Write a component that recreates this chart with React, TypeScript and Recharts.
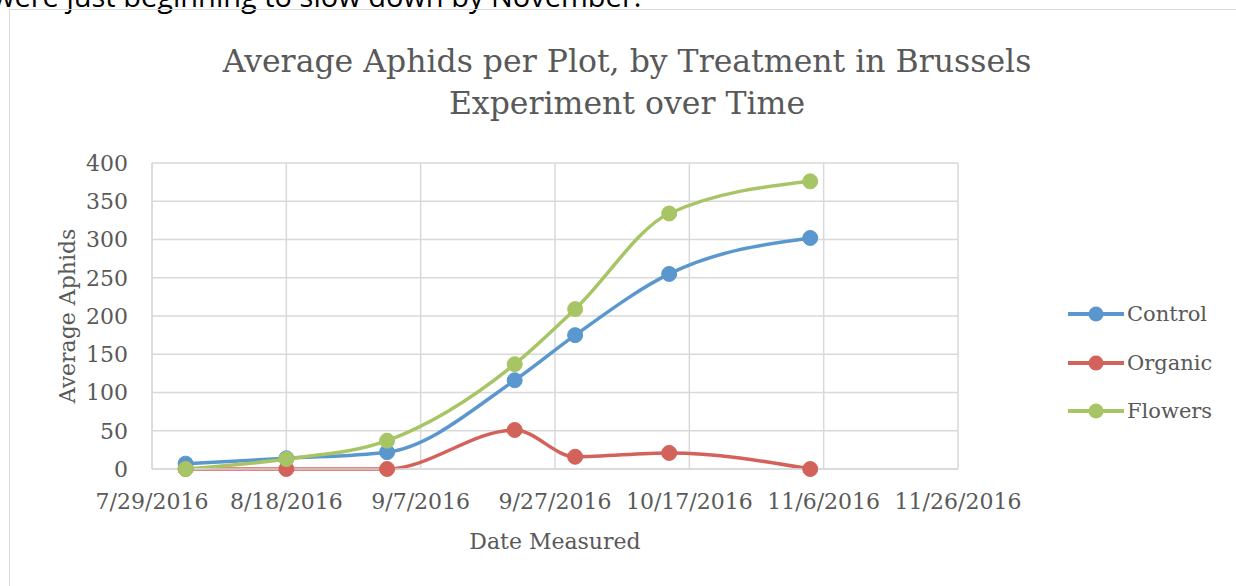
import React from 'react';
import { LineChart, Line, XAxis, YAxis, CartesianGrid, Legend, Label } from 'recharts';

// ---- data ----
const dates = ['8/3/2016', '8/18/2016', '9/2/2016', '9/21/2016', '9/30/2016', '10/14/2016', '11/4/2016'];
const control = [7, 14, 22, 116, 175, 255, 302];
const organic = [0, 0, 0, 51, 16, 21, 0];
const flowers = [0, 13, 37, 137, 209, 334, 376];
const xTickLabels = ['7/29/2016', '8/18/2016', '9/7/2016', '9/27/2016', '10/17/2016', '11/6/2016', '11/26/2016'];
const yTicks = [0, 50, 100, 150, 200, 250, 300, 350, 400];

const seriesNames = ['Control', 'Organic', 'Flowers'];
const seriesColors = ['#5b97cf', '#d2625a', '#a8c566'];

const toTime = (s: string) => {
  const [m, d, y] = s.split('/').map(Number);
  return Date.UTC(y, m - 1, d);
};
const fmtDate = (t: number) => {
  const d = new Date(t);
  return `${d.getUTCMonth() + 1}/${d.getUTCDate()}/${d.getUTCFullYear()}`;
};

const data = dates.map((d, i) => ({
  t: toTime(d),
  Control: control[i],
  Organic: organic[i],
  Flowers: flowers[i],
}));
const xTicks = xTickLabels.map(toTime);

const FONT = '"DejaVu Serif", serif';
const TEXT = '#595959';
const GRID = '#d9d9d9';

const renderLegend = () => (
  <div style={{ display: 'flex', flexDirection: 'column' }}>
    {seriesNames.map((name, i) => (
      <div key={name} style={{ display: 'flex', alignItems: 'center', height: 48.5 }}>
        <svg width={56} height={20} style={{ display: 'block' }}>
          <line x1={0} y1={10} x2={56} y2={10} stroke={seriesColors[i]} strokeWidth={4} />
          <circle cx={28} cy={10} r={7.5} fill={seriesColors[i]} />
        </svg>
        <span style={{ marginLeft: 3, fontFamily: FONT, fontSize: 21, color: TEXT }}>{name}</span>
      </div>
    ))}
  </div>
);

export default function App() {
  return (
    <div
      style={{
        position: 'absolute',
        left: 0,
        top: 0,
        width: 1236,
        height: 586,
        overflow: 'hidden',
        background: '#fff',
      }}
    >
      <svg width={1236} height={14} style={{ position: 'absolute', left: 0, top: 0 }}>
        <text x={-8} y={6.5} fontFamily='"Open Sans", sans-serif' fontSize={29} fill="#000">
          were just beginning to slow down by November.
        </text>
      </svg>
      <div
        style={{
          position: 'absolute',
          left: 9,
          top: 9,
          width: 1400,
          height: 800,
          border: `1.5px solid ${GRID}`,
        }}
      />
      <div
        style={{
          position: 'absolute',
          left: 0,
          top: 40,
          width: 1254,
          textAlign: 'center',
          fontFamily: FONT,
          fontSize: 31.5,
          lineHeight: '42px',
          color: TEXT,
        }}
      >
        Average Aphids per Plot, by Treatment in Brussels
        <br />
        Experiment over Time
      </div>
      <div style={{ position: 'absolute', left: 0, top: 0 }}>
        <LineChart
          width={1236}
          height={586}
          data={data}
          margin={{ top: 163, right: 278, bottom: 27, left: 20 }}
        >
          <CartesianGrid stroke={GRID} strokeWidth={1.5} vertical horizontal />
          <XAxis
            dataKey="t"
            type="number"
            scale="linear"
            domain={[xTicks[0], xTicks[xTicks.length - 1]]}
            ticks={xTicks}
            tickFormatter={fmtDate}
            interval={0}
            height={90}
            stroke={GRID}
            strokeWidth={1.5}
            tickLine={false}
            tickSize={0}
            tickMargin={24}
            tick={{ fill: TEXT, fontFamily: FONT, fontSize: 22 }}
          >
            <Label
              content={(p: any) => {
                const vb = p.viewBox;
                return (
                  <text
                    x={vb.x + vb.width / 2}
                    y={vb.y + 80}
                    textAnchor="middle"
                    fontFamily={FONT}
                    fontSize={22}
                    fill={TEXT}
                  >
                    Date Measured
                  </text>
                );
              }}
            />
          </XAxis>
          <YAxis
            type="number"
            domain={[0, 400]}
            ticks={yTicks}
            interval={0}
            width={132}
            stroke={GRID}
            strokeWidth={1.5}
            tickLine={false}
            tickSize={0}
            tickMargin={24}
            tick={{ fill: TEXT, fontFamily: FONT, fontSize: 22 }}
          >
            <Label
              content={(p: any) => {
                const vb = p.viewBox;
                const cx = vb.x + 47;
                const cy = vb.y + vb.height / 2;
                return (
                  <text
                    x={cx}
                    y={cy}
                    transform={`rotate(-90, ${cx}, ${cy})`}
                    textAnchor="middle"
                    dominantBaseline="central"
                    fontFamily={FONT}
                    fontSize={22}
                    fill={TEXT}
                  >
                    Average Aphids
                  </text>
                );
              }}
            />
          </YAxis>
          <Legend
            layout="horizontal"
            verticalAlign="middle"
            align="center"
            content={renderLegend}
            wrapperStyle={{ left: 1068, top: 290, width: 168 }}
          />
          {seriesNames.map((name, i) => (
            <Line
              key={name}
              type="monotone"
              dataKey={name}
              name={name}
              stroke={seriesColors[i]}
              strokeWidth={3.5}
              dot={{ r: 7.5, fill: seriesColors[i], stroke: seriesColors[i], strokeWidth: 1 }}
              activeDot={false}
              isAnimationActive={false}
            />
          ))}
        </LineChart>
      </div>
    </div>
  );
}
